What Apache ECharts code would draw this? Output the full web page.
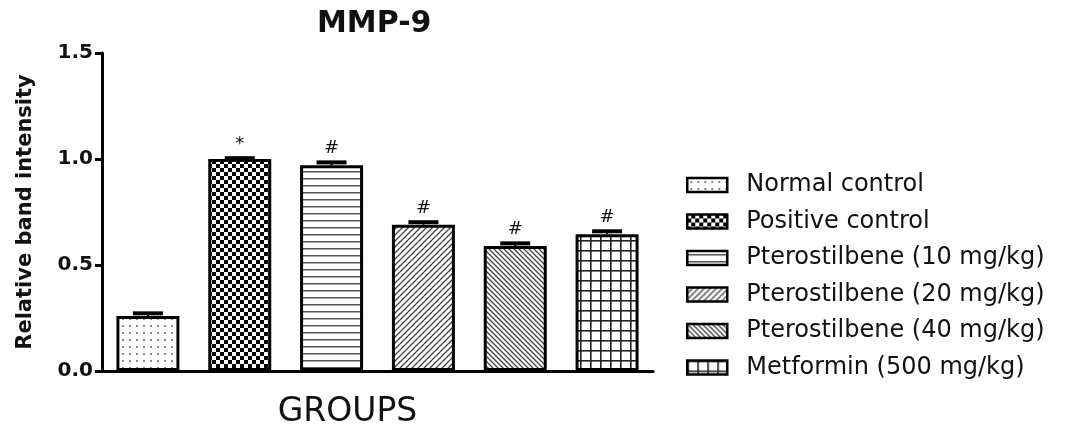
<!DOCTYPE html>
<html>
<head>
<meta charset="utf-8">
<script src="https://cdn.jsdelivr.net/npm/echarts@6/dist/echarts.min.js"></script>
<style>
  html, body { margin: 0; padding: 0; background: #fff; }
  #chart { width: 1073px; height: 425px; }
</style>
</head>
<body>
<div id="chart"></div>
<script>
// data
const groups = [
  'Normal control',
  'Positive control',
  'Pterostilbene (10 mg/kg)',
  'Pterostilbene (20 mg/kg)',
  'Pterostilbene (40 mg/kg)',
  'Metformin (500 mg/kg)'
]
const means = [0.26, 1.0, 0.97, 0.69, 0.59, 0.645]
const errors = [0.012, 0.004, 0.014, 0.012, 0.012, 0.014]
const marks = ['', '*', '#', '#', '#', '#']
const patterns = ['dots', 'checker', 'hlines', 'rising', 'falling', 'grid']
const yTicks = [0, 0.5, 1.0, 1.5]

// fill patterns drawn on small canvases
function makePattern(kind) {
  const c = document.createElement('canvas')
  const ctx = c.getContext('2d')
  let s = 8
  if (kind === 'dots') s = 7
  if (kind === 'hlines') s = 7
  if (kind === 'rising') s = 6
  if (kind === 'falling') s = 5
  if (kind === 'grid') s = 10
  c.width = s
  c.height = s
  ctx.fillStyle = '#fff'
  ctx.fillRect(0, 0, s, s)
  if (kind === 'dots') {
    ctx.fillStyle = '#888'
    ctx.fillRect(3, 3, 2, 2)
  } else if (kind === 'checker') {
    ctx.fillStyle = '#000'
    ctx.fillRect(0, 0, s, s)
    ctx.fillStyle = '#fff'
    ctx.fillRect(0, 0, 4, 4)
    ctx.fillRect(4, 4, 4, 4)
  } else if (kind === 'hlines') {
    ctx.fillStyle = '#555'
    ctx.fillRect(0, 3, s, 1.5)
  } else if (kind === 'rising' || kind === 'falling') {
    ctx.strokeStyle = '#444'
    ctx.lineWidth = 1.3
    ctx.beginPath()
    if (kind === 'rising') {
      ctx.moveTo(-1, s + 1); ctx.lineTo(s + 1, -1)
      ctx.moveTo(-1, 1); ctx.lineTo(1, -1)
      ctx.moveTo(s - 1, s + 1); ctx.lineTo(s + 1, s - 1)
    } else {
      ctx.moveTo(-1, -1); ctx.lineTo(s + 1, s + 1)
      ctx.moveTo(-1, s - 1); ctx.lineTo(1, s + 1)
      ctx.moveTo(s - 1, -1); ctx.lineTo(s + 1, 1)
    }
    ctx.stroke()
  } else if (kind === 'grid') {
    ctx.fillStyle = '#222'
    ctx.fillRect(0, 0, s, 1.6)
    ctx.fillRect(0, 0, 1.6, s)
  }
  return { image: c, repeat: 'repeat' }
}

const chart = echarts.init(document.getElementById('chart'))

const barSeries = groups.map((name, i) => ({
  name: name,
  type: 'bar',
  barWidth: 63,
  barGap: '-100%',
  data: groups.map((g, j) => (j === i ? means[i] : '-')),
  itemStyle: {
    color: makePattern(patterns[i]),
    borderColor: '#000',
    borderWidth: 3
  },
  emphasis: { disabled: true }
}))

const errorSeries = {
  type: 'custom',
  data: means.map((m, i) => [i, m, errors[i], marks[i]]),
  z: 10,
  renderItem: function (params, api) {
    const x = api.value(0)
    const m = api.value(1)
    const e = api.value(2)
    const base = api.coord([x, m])
    const top = api.coord([x, m + e])
    const children = [
      {
        type: 'line',
        shape: { x1: base[0], y1: base[1], x2: top[0], y2: top[1] },
        style: { stroke: '#000', lineWidth: 2 }
      },
      {
        type: 'line',
        shape: { x1: top[0] - 15, y1: top[1], x2: top[0] + 15, y2: top[1] },
        style: { stroke: '#000', lineWidth: 4 }
      }
    ]
    const mark = marks[params.dataIndex]
    if (mark) {
      children.push({
        type: 'text',
        style: {
          text: mark,
          x: top[0],
          y: top[1] - 14,
          align: 'center',
          verticalAlign: 'middle',
          fontSize: 18,
          fontFamily: 'DejaVu Sans',
          fill: '#111'
        }
      })
    }
    return { type: 'group', children: children }
  }
}

chart.setOption({
  backgroundColor: '#fff',
  animation: false,
  title: {
    text: 'MMP-9',
    left: 312,
    top: 4,
    textStyle: {
      fontFamily: 'DejaVu Sans',
      fontWeight: 'bold',
      fontSize: 30,
      color: '#111'
    }
  },
  legend: {
    orient: 'vertical',
    left: 681,
    top: 166,
    data: groups,
    icon: 'rect',
    itemWidth: 40,
    itemHeight: 14,
    itemGap: 8.5,
    selectedMode: false,
    itemStyle: { borderColor: '#000', borderWidth: 2.5 },
    textStyle: {
      fontFamily: 'DejaVu Sans',
      fontSize: 24,
      lineHeight: 28,
      color: '#111',
      padding: [0, 0, 0, 14]
    }
  },
  grid: {
    left: 102,
    right: 420,
    top: 53,
    bottom: 54,
    outerBoundsMode: 'none',
    containLabel: false
  },
  xAxis: {
    type: 'category',
    data: groups,
    name: 'GROUPS',
    nameLocation: 'middle',
    nameGap: 25,
    nameTextStyle: {
      fontFamily: 'DejaVu Sans',
      fontSize: 33,
      color: '#111',
      padding: [0, 60, 0, 0]
    },
    axisLine: { lineStyle: { color: '#000', width: 3 } },
    axisTick: { show: false },
    axisLabel: { show: false }
  },
  yAxis: {
    type: 'value',
    min: yTicks[0],
    max: yTicks[yTicks.length - 1],
    interval: 0.5,
    name: 'Relative band intensity',
    nameLocation: 'middle',
    nameRotate: 90,
    nameGap: 66,
    nameTextStyle: {
      fontFamily: 'DejaVu Sans',
      fontWeight: 'bold',
      fontSize: 21,
      color: '#111'
    },
    axisLine: { show: true, lineStyle: { color: '#000', width: 3 } },
    axisTick: { show: true, length: 7, lineStyle: { color: '#000', width: 3 } },
    axisLabel: {
      formatter: v => v.toFixed(1),
      fontFamily: 'DejaVu Sans',
      fontWeight: 'bold',
      fontSize: 20,
      color: '#111',
      margin: 9
    },
    splitLine: { show: false }
  },
  series: [...barSeries, errorSeries]
})
</script>
</body>
</html>
